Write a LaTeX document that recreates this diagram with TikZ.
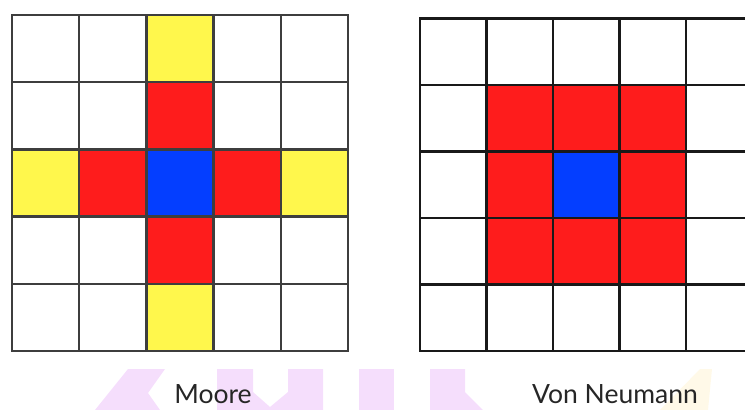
\documentclass[tikz,border=0pt]{standalone}
\usepackage{fontspec}
\setmainfont{Lato}

\begin{document}
\begin{tikzpicture}[x=1pt,y=-1pt]

% Colors
\definecolor{cellyellow}{RGB}{255,247,76}
\definecolor{cellred}{RGB}{254,28,28}
\definecolor{cellblue}{RGB}{4,62,255}
\definecolor{gridleft}{RGB}{62,62,62}
\definecolor{gridright}{RGB}{25,25,25}
\definecolor{markpink}{RGB}{245,222,252}
\definecolor{markyellow}{RGB}{255,249,232}

% Styles
\tikzset{
  Ycell/.style={fill=cellyellow},
  Rcell/.style={fill=cellred},
  Bcell/.style={fill=cellblue},
  gridlines/.style={line width=2.4pt, line cap=rect},
  caption/.style={anchor=base, inner sep=0pt, font=\fontsize{26.5}{27}\selectfont, text=black!85}
}

\path[use as bounding box] (0,0) rectangle (745,410);
\clip (0,0) rectangle (745,410);

% Watermark shapes behind the captions
\fill[markpink] (95,410) -- (128,369) -- (165,369) -- (148,393) -- (160,410) -- cycle;
\fill[markpink] (217,369) -- (253,369) -- (253,392) -- (270,407) -- (288,392)
  -- (288,369) -- (323,369) -- (323,410) -- (217,410) -- cycle;
\fill[markpink] (359,369) rectangle (394,410);
\fill[markpink] (430,369) -- (465,369) -- (465,392) -- (483,410) -- (430,410) -- cycle;
\fill[markyellow] (700,369) -- (712,369) -- (708,410) -- (660,410) -- cycle;

% Moore grid
\begin{scope}[shift={(12,15)}, x=67.2pt, y=-67.2pt]
  \foreach \c/\r in {2/0,0/2,4/2,2/4} \fill[Ycell] (\c,\r) rectangle ++(1,1);
  \foreach \c/\r in {2/1,1/2,3/2,2/3} \fill[Rcell] (\c,\r) rectangle ++(1,1);
  \fill[Bcell] (2,2) rectangle ++(1,1);
  \foreach \i in {0,...,5} {
    \draw[gridlines, draw=gridleft] (\i,0) -- (\i,5);
    \draw[gridlines, draw=gridleft] (0,\i) -- (5,\i);
  }
\end{scope}

% Von Neumann grid (cut by the right edge)
\begin{scope}[shift={(419.8,18.3)}, x=66.6pt, y=-66.5pt]
  \foreach \c in {1,2,3} \foreach \r in {1,2,3} \fill[Rcell] (\c,\r) rectangle ++(1,1);
  \fill[Bcell] (2,2) rectangle ++(1,1);
  \foreach \i in {0,...,5} {
    \draw[gridlines, draw=gridright] (\i,0) -- (\i,5);
    \draw[gridlines, draw=gridright] (0,\i) -- (5,\i);
  }
\end{scope}

% Captions
\node[caption] (moore) at (213,403.5) {Moore};
\node[caption] (vonneumann) at (615,403.5) {Von Neumann};

\end{tikzpicture}
\end{document}
